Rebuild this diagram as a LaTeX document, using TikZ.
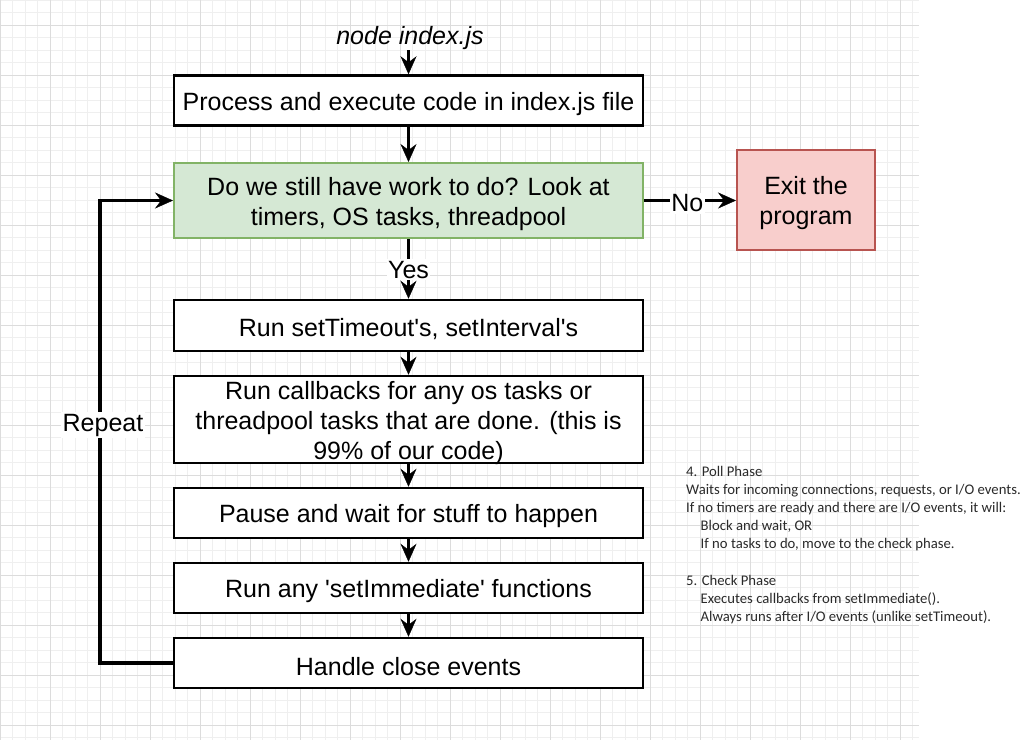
\documentclass[tikz,border=0pt]{standalone}
\usepackage{fontspec}
\setmainfont{Liberation Sans}
\newfontfamily\notefont{Carlito}
\usetikzlibrary{arrows.meta}
\definecolor{gridminor}{HTML}{EFEFEF}
\definecolor{gridmajor}{HTML}{DCDCDC}
\definecolor{greenfill}{HTML}{D5E8D4}
\definecolor{greendraw}{HTML}{82B366}
\definecolor{redfill}{HTML}{F8CECC}
\definecolor{reddraw}{HTML}{B85450}
\definecolor{notegray}{HTML}{2A2A2A}
\newcommand{\mainsize}{\fontsize{25}{30}\selectfont}
\tikzset{
  boxtext/.style={align=center, inner sep=0pt, font=\mainsize, yshift=-3.5pt},
  stepbox/.style={draw=black, line width=2.5pt, fill=white, rectangle, minimum width=469pt, inner sep=0pt},
  conn/.style={line width=3.5pt, -{Stealth[length=18pt,width=16pt,inset=6pt,line width=0.5pt]}},
  lbl/.style={fill=white, inner sep=1.5pt, font=\mainsize},
  note/.style={anchor=base west, inner sep=0pt, text=notegray, font=\notefont\fontsize{14.7}{17}\selectfont},
  minorline/.style={draw=gridminor, line width=1pt},
  majorline/.style={draw=gridmajor, line width=1pt}
}
\begin{document}
\begin{tikzpicture}[x=1pt,y=-1pt]
\useasboundingbox (0,0) rectangle (1033,740);
\fill[white] (0,0) rectangle (1033,740);
% grid
\foreach \i in {0,...,73} {\draw[minorline] (\i*12.5,0) -- (\i*12.5,740);}
\foreach \i in {0,...,59} {\draw[minorline] (0,\i*12.5) -- (919,\i*12.5);}
\foreach \i in {0,...,18} {\draw[majorline] (\i*50,0) -- (\i*50,740);}
\foreach \i in {0,...,14} {\draw[majorline] (0,25+\i*50) -- (919,25+\i*50);}

% nodes
\node[inner sep=0pt, font=\itshape\mainsize] (title) at (410,38.5) {node index.js};
\node[stepbox, minimum height=50pt, label={[boxtext]center:{Process and execute code in index.js file}}] (box1) at (408.5,100.5) {};
\node[stepbox, minimum height=75pt, draw=greendraw, fill=greenfill, line width=2pt, label={[boxtext]center:{Do we still have work to do? Look at\\timers, OS tasks, threadpool}}] (work) at (408.5,200.5) {};
\node[draw=reddraw, fill=redfill, line width=2pt, rectangle, minimum width=138pt, minimum height=100pt, inner sep=0pt, label={[boxtext]center:{Exit the\\program}}] (exit) at (806,200) {};
\node[stepbox, minimum height=51pt, label={[boxtext]center:{Run setTimeout\textquotesingle s, setInterval\textquotesingle s}}] (timers) at (408.5,325.5) {};
\node[stepbox, minimum height=87pt, label={[boxtext]center:{Run callbacks for any os tasks or\\threadpool tasks that are done. (this is\\99\% of our code)}}] (callbacks) at (408.5,419.5) {};
\node[stepbox, minimum height=50pt, label={[boxtext]center:{Pause and wait for stuff to happen}}] (pause) at (408.5,513) {};
\node[stepbox, minimum height=50pt, label={[boxtext]center:{Run any \textquotesingle setImmediate\textquotesingle{} functions}}] (immediate) at (408.5,588) {};
\node[stepbox, minimum height=50pt, label={[boxtext]center:{Handle close events}}] (close) at (408.5,663) {};

\coordinate (lb) at (100,663);

% connectors
\draw[conn] (box1.north |- title.south) -- (box1.north);
\draw[conn] (box1) -- (work);
\draw[conn] (work.east) -- (exit.west |- work.east) node[lbl, pos=0.47, yshift=-3pt] (no) {No};
\draw[conn] (work) -- (timers) node[lbl, pos=0.48, yshift=-2pt] (yes) {Yes};
\draw[conn] (timers) -- (callbacks);
\draw[conn] (callbacks) -- (pause);
\draw[conn] (pause) -- (immediate);
\draw[conn] (immediate) -- (close);
\draw[conn] (close.west) -- (lb) |- (work.west);
\node[lbl] (repeat) at (103,425) {Repeat};

% notes
\node[note] (n1) at (686,476.4) {4. Poll Phase};
\node[note] (n2) at (686,494.5) {Waits for incoming connections, requests, or I/O events.};
\node[note] (n3) at (686,512.6) {If no timers are ready and there are I/O events, it will:};
\node[note] (n4) at (700.5,530.7) {Block and wait, OR};
\node[note] (n5) at (700.5,548.8) {If no tasks to do, move to the check phase.};
\node[note] (n6) at (686,585.0) {5. Check Phase};
\node[note] (n7) at (700.5,603.1) {Executes callbacks from setImmediate().};
\node[note] (n8) at (700.5,621.2) {Always runs after I/O events (unlike setTimeout).};
\end{tikzpicture}
\end{document}
